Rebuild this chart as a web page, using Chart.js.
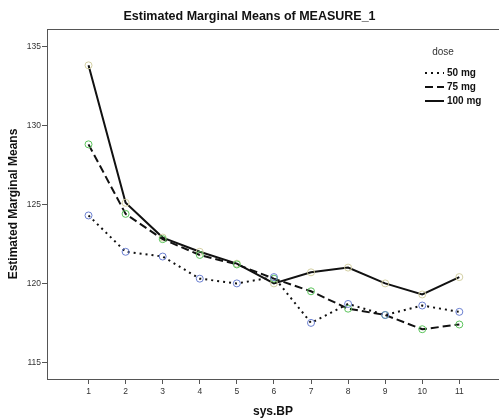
<!DOCTYPE html>
<html>
<head>
<meta charset="utf-8">
<script src="https://cdn.jsdelivr.net/npm/chart.js@4"></script>
<style>
  body { margin: 0; background: #fff; }
  canvas { display: block; }
</style>
</head>
<body>
<canvas id="emm-chart" width="499" height="419"></canvas>
<script>
var sys_bp = [1, 2, 3, 4, 5, 6, 7, 8, 9, 10, 11];
var dose_50 = [124.3, 122.0, 121.7, 120.3, 120.0, 120.4, 117.5, 118.7, 118.0, 118.6, 118.2];
var dose_75 = [128.8, 124.4, 122.8, 121.8, 121.2, 120.3, 119.5, 118.4, 118.0, 117.1, 117.4];
var dose_100 = [133.8, 125.1, 122.9, 122.0, 121.25, 120.0, 120.7, 121.0, 120.0, 119.3, 120.4];
var y_ticks = [115, 120, 125, 130, 135];

var font_family = "'Liberation Sans', Arial, sans-serif";

function to_points(vals) {
  return vals.map((v, i) => ({ x: sys_bp[i], y: v }));
}

var series = [
  { label: "50 mg", data: dose_50, dash: [2, 4], marker: "#6a7fd0" },
  { label: "75 mg", data: dose_75, dash: [8, 4], marker: "#5cc45c" },
  { label: "100 mg", data: dose_100, dash: [], marker: "#d3cfa3" },
];

// draws the top frame line and the SPSS style legend
var frame_legend = {
  id: "frameLegend",
  beforeDatasetsDraw(chart) {
    var ctx = chart.ctx;
    var a = chart.chartArea;
    ctx.save();
    ctx.strokeStyle = "#555";
    ctx.lineWidth = 1;
    ctx.beginPath();
    ctx.moveTo(a.left, a.top + 0.5);
    ctx.lineTo(a.right, a.top + 0.5);
    ctx.stroke();
    ctx.restore();
  },
  afterDraw(chart) {
    var ctx = chart.ctx;
    ctx.save();
    ctx.fillStyle = "#333";
    ctx.font = "10px " + font_family;
    ctx.textAlign = "center";
    ctx.textBaseline = "middle";
    ctx.fillText("dose", 443, 52);
    ctx.font = "bold 10px " + font_family;
    ctx.textAlign = "left";
    chart.data.datasets.forEach((ds, i) => {
      var y = 73 + i * 14;
      ctx.strokeStyle = "#111";
      ctx.lineWidth = 2;
      ctx.setLineDash(ds.borderDash);
      ctx.beginPath();
      ctx.moveTo(425, y);
      ctx.lineTo(444, y);
      ctx.stroke();
      ctx.setLineDash([]);
      ctx.fillStyle = "#111";
      ctx.fillText(ds.label, 447, y);
    });
    ctx.restore();
  },
};

var datasets = series.map((s) => ({
  label: s.label,
  data: to_points(s.data),
  borderColor: "#111",
  borderWidth: 2,
  borderDash: s.dash,
  pointStyle: "circle",
  pointRadius: 3.5,
  pointBorderWidth: 1,
  pointBorderColor: s.marker,
  pointBackgroundColor: "rgba(0,0,0,0)",
  tension: 0,
}));

new Chart(document.getElementById("emm-chart"), {
  type: "line",
  data: { datasets: datasets },
  plugins: [frame_legend],
  options: {
    responsive: false,
    animation: false,
    layout: { autoPadding: false, padding: 0 },
    plugins: {
      legend: { display: false },
      tooltip: { enabled: false },
      title: {
        display: true,
        text: "Estimated Marginal Means of MEASURE_1",
        color: "#111",
        font: { family: font_family, size: 12.5, weight: "bold" },
        padding: { top: 9, bottom: 5 },
      },
    },
    scales: {
      x: {
        type: "linear",
        min: -0.12,
        max: 12.07,
        afterBuildTicks: (s) => { s.ticks = sys_bp.map((v) => ({ value: v })); },
        afterFit: (s) => { s.height = 40; },
        grid: { drawOnChartArea: false, drawTicks: true, tickLength: 5, color: "#555" },
        border: { display: true, color: "#555", width: 1 },
        ticks: { color: "#333", padding: 3, font: { family: font_family, size: 8.5 } },
        title: {
          display: true,
          text: "sys.BP",
          color: "#111",
          font: { family: font_family, size: 12, weight: "bold" },
          padding: { top: 0, bottom: 0 },
        },
      },
      y: {
        min: 113.95,
        max: 136.1,
        afterBuildTicks: (s) => { s.ticks = y_ticks.map((v) => ({ value: v })); },
        afterFit: (s) => { s.width = 47; },
        grid: { drawOnChartArea: false, drawTicks: true, tickLength: 5, color: "#555" },
        border: { display: true, color: "#555", width: 1 },
        ticks: { color: "#333", padding: 1, font: { family: font_family, size: 8.5 } },
        title: {
          display: true,
          text: "Estimated Marginal Means",
          color: "#111",
          font: { family: font_family, size: 12, weight: "bold" },
          padding: { top: 6, bottom: 0 },
        },
      },
    },
  },
});
</script>
</body>
</html>
